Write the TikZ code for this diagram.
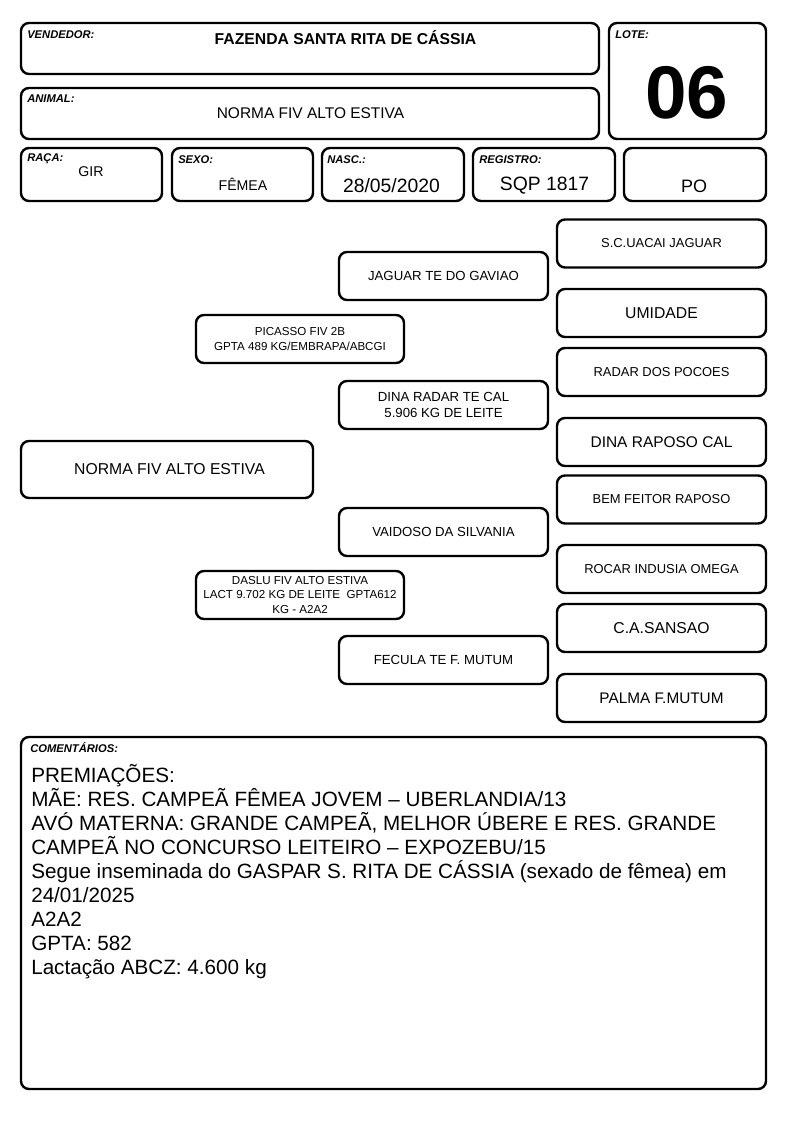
\documentclass[tikz,border=0pt]{standalone}
\usepackage{fontspec}
\setmainfont{Liberation Sans}
\newcommand{\fsz}[1]{\fontsize{#1}{#1}\selectfont}
\tikzset{
  cell/.style={draw, line width=1.8pt, rounded corners=6pt, inner sep=0pt, align=center},
  dims/.style 2 args={minimum width=#1*0.75pt, minimum height=#2*0.75pt},
  tag/.style={anchor=west, inner sep=0pt, font=\fontsize{8.4}{9}\selectfont\bfseries\itshape},
  gthree/.style={cell, dims={209}{48}},
  gtwo/.style={cell, dims={209}{48}, font=\fontsize{9.9}{11.8}\selectfont},
  gone/.style={cell, dims={208}{48}, font=\fontsize{8.7}{11}\selectfont},
}
\begin{document}
\begin{tikzpicture}[x=0.75pt, y=-0.75pt]
    \useasboundingbox (0,0) rectangle (794,1123);

    % 1. Cabeçalho: vendedor, animal e lote
    \node[cell, dims={578}{51}] (vend) at (310,48.5) {};
    \node[tag] (vendtag) at (27,35) {VENDEDOR:};
    \node[font=\fontsize{11.8}{12}\selectfont\bfseries] (vendtxt) at (345.5,38) {FAZENDA SANTA RITA DE CÁSSIA};

    \node[cell, dims={578}{51}] (anim) at (310,113.5) {};
    \node[tag] (animtag) at (27,99) {ANIMAL:};
    \node[font=\fsz{11.6}] (animtxt) at (310.5,113) {NORMA FIV ALTO ESTIVA};

    \node[cell, dims={157}{116}] (lote) at (687.5,81) {};
    \node[tag] (lotetag) at (615,35) {LOTE:};
    \node[font=\fontsize{56}{60}\selectfont\bfseries] (lotetxt) at (687,93) {06};

    % 2. Linha de dados
    \node[cell, dims={141}{53}] (raca) at (91.5,174.5) {};
    \node[tag] (racatag) at (27,159) {RAÇA:};
    \node[font=\fsz{10.6}] (racatxt) at (91,172) {GIR};

    \node[cell, dims={141}{53}] (sexo) at (242.5,174.5) {};
    \node[tag] (sexotag) at (178,160) {SEXO:};
    \node[font=\fsz{10.6}] (sexotxt) at (243,184) {FÊMEA};

    \node[cell, dims={142}{53}] (nasc) at (393,174.5) {};
    \node[tag] (nasctag) at (327,160) {NASC.:};
    \node[font=\fsz{14.5}] (nasctxt) at (391.5,186) {28/05/2020};

    \node[cell, dims={142}{53}] (reg) at (544,174.5) {};
    \node[tag] (regtag) at (479,160) {REGISTRO:};
    \node[font=\fsz{14.5}] (regtxt) at (544.5,186) {SQP 1817};

    \node[cell, dims={142}{53}] (po) at (695,174.5) {};
    \node[font=\fsz{13.5}] (potxt) at (694,186) {PO};

    % 3. Genealogia
    \node[cell, dims={292}{57}] (prop) at (167,469.5) {};
    \node[font=\fsz{11.8}] (proptxt) at (169.5,469.5) {NORMA FIV ALTO ESTIVA};

    \node[gone] (pai) at (300,339) {PICASSO FIV 2B\\GPTA 489 KG/EMBRAPA/ABCGI};
    \node[gone] (mae) at (300,595) {DASLU FIV ALTO ESTIVA\\LACT 9.702 KG DE LEITE~~GPTA612\\KG - A2A2};

    \node[gtwo] (avpp) at (443.5,276) {JAGUAR TE DO GAVIAO};
    \node[gtwo] (avpm) at (443.5,405) {DINA RADAR TE CAL\\5.906 KG DE LEITE};
    \node[gtwo] (avmp) at (443.5,532) {VAIDOSO DA SILVANIA};
    \node[gtwo] (avmm) at (443.5,660) {FECULA TE F. MUTUM};

    \node[gthree, font=\fsz{9.7}] (bis1) at (661.5,243.5) {S.C.UACAI JAGUAR};
    \node[gthree, font=\fsz{11.8}] (bis2) at (661.5,313) {UMIDADE};
    \node[gthree, font=\fsz{9.7}] (bis3) at (661.5,372) {RADAR DOS POCOES};
    \node[gthree, font=\fsz{11.6}] (bis4) at (661.5,442) {DINA RAPOSO CAL};
    \node[gthree, font=\fsz{9.7}] (bis5) at (661.5,499.5) {BEM FEITOR RAPOSO};
    \node[gthree, font=\fsz{9.7}] (bis6) at (661.5,569) {ROCAR INDUSIA OMEGA};
    \node[gthree, font=\fsz{11.8}] (bis7) at (661.5,628) {C.A.SANSAO};
    \node[gthree, font=\fsz{11.5}] (bis8) at (661.5,698) {PALMA F.MUTUM};

    % 4. Comentários
    \node[cell, dims={745}{352}] (coment) at (393.5,913) {};
    \node[tag] (comenttag) at (30,748) {COMENTÁRIOS:};
    \node[anchor=north west, inner sep=0pt, align=left, font=\fontsize{15.5}{18}\selectfont] (comenttxt) at (31,764)
        {PREMIAÇÕES:\\
         MÃE: RES. CAMPEÃ FÊMEA JOVEM – UBERLANDIA/13\\
         AVÓ MATERNA: GRANDE CAMPEÃ, MELHOR ÚBERE E RES. GRANDE\\
         CAMPEÃ NO CONCURSO LEITEIRO – EXPOZEBU/15\\
         Segue inseminada do GASPAR S. RITA DE CÁSSIA (sexado de fêmea) em\\
         24/01/2025\\
         A2A2\\
         GPTA: 582\\
         Lactação ABCZ: 4.600 kg};
\end{tikzpicture}
\end{document}
